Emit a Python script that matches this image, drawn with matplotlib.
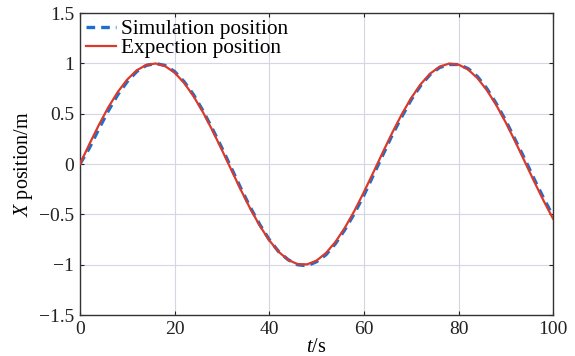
import matplotlib
matplotlib.use("Agg")
import matplotlib.pyplot as plt

t = list(range(0, 101, 2))
expection = [0.000, 0.199, 0.389, 0.565, 0.717, 0.841, 0.932, 0.985, 1.000, 0.974,
             0.909, 0.808, 0.675, 0.516, 0.335, 0.141, -0.058, -0.256, -0.443, -0.612,
             -0.757, -0.872, -0.952, -0.994, -0.996, -0.959, -0.883, -0.773, -0.631, -0.465,
             -0.279, -0.083, 0.117, 0.312, 0.494, 0.657, 0.794, 0.899, 0.968, 0.999,
             0.989, 0.941, 0.855, 0.734, 0.585, 0.412, 0.223, 0.025, -0.174, -0.366, -0.544]
simulation = [0.00, 0.16, 0.35, 0.53, 0.69, 0.82, 0.92, 0.98, 1.00, 0.98,
              0.92, 0.82, 0.69, 0.53, 0.35, 0.16, -0.04, -0.24, -0.43, -0.60,
              -0.75, -0.87, -0.95, -1.00, -1.01, -0.97, -0.90, -0.79, -0.65, -0.49,
              -0.31, -0.11, 0.09, 0.29, 0.47, 0.64, 0.78, 0.89, 0.96, 0.99,
              0.99, 0.95, 0.87, 0.75, 0.60, 0.43, 0.24, 0.05, -0.15, -0.34, -0.52]
xticks = [0, 20, 40, 60, 80, 100]
yticks = [-1.5, -1, -0.5, 0, 0.5, 1, 1.5]
ytick_labels = ["\u22121.5", "\u22121", "\u22120.5", "0", "0.5", "1", "1.5"]

plt.rcParams['font.family'] = ['Liberation Serif', 'DejaVu Serif']
plt.rcParams['mathtext.fontset'] = 'custom'
plt.rcParams['mathtext.rm'] = 'Liberation Serif'
plt.rcParams['mathtext.it'] = 'Liberation Serif:italic'

fig = plt.figure(figsize=(5.75, 3.56), dpi=100)
ax = fig.add_axes([0.139, 0.115, 0.823, 0.848])

ax.plot(t, simulation, color='#1a6fd0', lw=2.4, ls=(0, (2.6, 1.8)), label='Simulation position', zorder=3)
ax.plot(t, expection, color='#d93a2b', lw=1.6, label='Expection position', zorder=4)

ax.set_xlim(0, 100)
ax.set_ylim(-1.5, 1.5)
ax.set_xticks(xticks)
ax.set_yticks(yticks)
ax.set_yticklabels(ytick_labels)
ax.tick_params(direction='in', top=True, right=True, labelsize=14, length=3, width=0.8,
               colors='#222222', pad=4)
ax.grid(True, color='#d4d6e6', lw=0.8)
for s in ax.spines.values():
    s.set_color('#333333')
    s.set_linewidth(1.0)

ax.set_xlabel('$t$/s', fontsize=14.5, labelpad=0)
ax.set_ylabel('$X$ position/m', fontsize=14.5, labelpad=3)

leg = ax.legend(loc='upper left', frameon=False, fontsize=15.3, handlelength=1.4,
                borderaxespad=0.1, labelspacing=-0.05, handletextpad=0.25, borderpad=0.2)

fig.savefig('out.png', dpi=100)
